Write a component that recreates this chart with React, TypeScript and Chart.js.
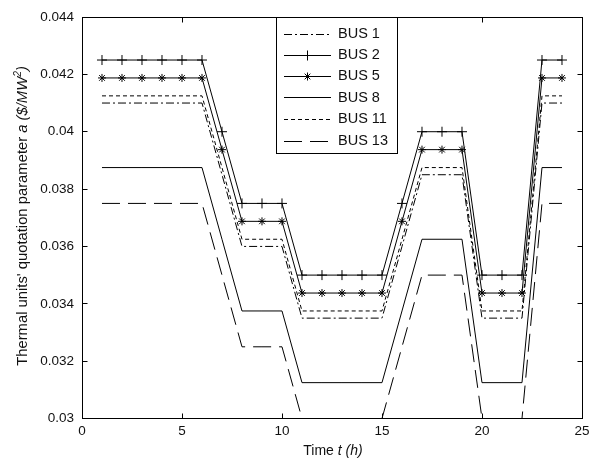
import React, { useEffect, useRef } from "react";
import { Chart, registerables } from "chart.js";

Chart.register(...registerables);

const hours = [1, 2, 3, 4, 5, 6, 7, 8, 9, 10, 11, 12, 13, 14, 15, 16, 17, 18, 19, 20, 21, 22, 23, 24];

const bus1 = [0.041, 0.041, 0.041, 0.041, 0.041, 0.041, 0.0385, 0.036, 0.036, 0.036, 0.0335, 0.0335, 0.0335, 0.0335, 0.0335, 0.036, 0.0385, 0.0385, 0.0385, 0.0335, 0.0335, 0.0335, 0.041, 0.041];
const bus2 = [0.0425, 0.0425, 0.0425, 0.0425, 0.0425, 0.0425, 0.04, 0.0375, 0.0375, 0.0375, 0.035, 0.035, 0.035, 0.035, 0.035, 0.0375, 0.04, 0.04, 0.04, 0.035, 0.035, 0.035, 0.0425, 0.0425];
const bus5 = [0.041875, 0.041875, 0.041875, 0.041875, 0.041875, 0.041875, 0.039375, 0.036875, 0.036875, 0.036875, 0.034375, 0.034375, 0.034375, 0.034375, 0.034375, 0.036875, 0.039375, 0.039375, 0.039375, 0.034375, 0.034375, 0.034375, 0.041875, 0.041875];
const bus8 = [0.03875, 0.03875, 0.03875, 0.03875, 0.03875, 0.03875, 0.03625, 0.03375, 0.03375, 0.03375, 0.03125, 0.03125, 0.03125, 0.03125, 0.03125, 0.03375, 0.03625, 0.03625, 0.03625, 0.03125, 0.03125, 0.03125, 0.03875, 0.03875];
const bus11 = [0.04125, 0.04125, 0.04125, 0.04125, 0.04125, 0.04125, 0.03875, 0.03625, 0.03625, 0.03625, 0.03375, 0.03375, 0.03375, 0.03375, 0.03375, 0.03625, 0.03875, 0.03875, 0.03875, 0.03375, 0.03375, 0.03375, 0.04125, 0.04125];
const bus13 = [0.0375, 0.0375, 0.0375, 0.0375, 0.0375, 0.0375, 0.035, 0.0325, 0.0325, 0.0325, 0.03, 0.03, 0.03, 0.03, 0.03, 0.0325, 0.035, 0.035, 0.035, 0.03, 0.03, 0.03, 0.0375, 0.0375];

const seriesNames = ["BUS 1", "BUS 2", "BUS 5", "BUS 8", "BUS 11", "BUS 13"];
const xTicks = [0, 5, 10, 15, 20, 25];
const yTicks = [0.03, 0.032, 0.034, 0.036, 0.038, 0.04, 0.042, 0.044];

const FONT = "'Liberation Sans', Arial, sans-serif";
const INK = "#111";

type Style = { dash: number[]; point: string | false; radius: number };
const styles: Style[] = [
  { dash: [8, 3, 2, 3], point: false, radius: 0 },
  { dash: [], point: "cross", radius: 5 },
  { dash: [], point: "star", radius: 4 },
  { dash: [], point: false, radius: 0 },
  { dash: [4, 3], point: false, radius: 0 },
  { dash: [18, 8], point: false, radius: 0 },
];

const seriesValues = [bus1, bus2, bus5, bus8, bus11, bus13];

const framePlugin = {
  id: "frame",
  afterDraw(chart: any) {
    const ctx: CanvasRenderingContext2D = chart.ctx;
    const { left, right, top, bottom } = chart.chartArea;
    const xs = chart.scales.x;
    const ys = chart.scales.y;
    ctx.save();
    ctx.strokeStyle = "#000";
    ctx.lineWidth = 1;
    ctx.setLineDash([]);
    const L = Math.round(left) + 0.5;
    const R = Math.round(right) + 0.5;
    const T = Math.round(top) + 0.5;
    const B = Math.floor(bottom) + 0.5;
    ctx.strokeRect(L, T, R - L, B - T);
    const tl = 5;
    ctx.beginPath();
    xTicks.forEach((v) => {
      const px = Math.round(xs.getPixelForValue(v)) + 0.5;
      ctx.moveTo(px, B);
      ctx.lineTo(px, B - tl);
      ctx.moveTo(px, T);
      ctx.lineTo(px, T + tl);
    });
    yTicks.forEach((v) => {
      const py = Math.floor(ys.getPixelForValue(v)) + 0.5;
      ctx.moveTo(L, py);
      ctx.lineTo(L + tl, py);
      ctx.moveTo(R, py);
      ctx.lineTo(R - tl, py);
    });
    ctx.stroke();

    // Legend
    const bx = 276.5, by = 17.5, bw = 121, bh = 136;
    ctx.fillStyle = "#fff";
    ctx.fillRect(bx, by, bw, bh);
    ctx.strokeRect(bx, by, bw, bh);
    const rowY = [33.5, 54.5, 75.5, 97, 118.5, 140.5];
    seriesNames.forEach((name, i) => {
      const st = styles[i];
      const y = Math.round(rowY[i]) + 0.5;
      ctx.beginPath();
      ctx.setLineDash(st.dash);
      ctx.moveTo(284, y);
      ctx.lineTo(331, y);
      ctx.stroke();
      ctx.setLineDash([]);
      const cx = 307.5;
      if (st.point === "cross") {
        ctx.beginPath();
        ctx.moveTo(cx, y - 5);
        ctx.lineTo(cx, y + 5);
        ctx.moveTo(cx - 5, y);
        ctx.lineTo(cx + 5, y);
        ctx.stroke();
      } else if (st.point === "star") {
        ctx.beginPath();
        const r = 4;
        ctx.moveTo(cx, y - r);
        ctx.lineTo(cx, y + r);
        ctx.moveTo(cx - r, y);
        ctx.lineTo(cx + r, y);
        const d = r * 0.7071;
        ctx.moveTo(cx - d, y - d);
        ctx.lineTo(cx + d, y + d);
        ctx.moveTo(cx - d, y + d);
        ctx.lineTo(cx + d, y - d);
        ctx.stroke();
      }
      ctx.fillStyle = INK;
      ctx.font = `14.5px ${FONT}`;
      ctx.textAlign = "left";
      ctx.textBaseline = "middle";
      ctx.fillText(name, 338, rowY[i] + 0.5);
    });

    const parts = (segs: [string, boolean, boolean?][], size: number) => {
      let w = 0;
      const m = segs.map(([t, it, sup]) => {
        const fs = sup ? size * 0.7 : size;
        ctx.font = `${it ? "italic " : ""}${fs}px ${FONT}`;
        const ww = ctx.measureText(t).width;
        w += ww;
        return { t, it, sup, fs, ww };
      });
      return { w, m };
    };
    const drawParts = (segs: [string, boolean, boolean?][], size: number, cx: number, baseline: number) => {
      const { w, m } = parts(segs, size);
      let x = cx - w / 2;
      ctx.textAlign = "left";
      ctx.textBaseline = "alphabetic";
      ctx.fillStyle = INK;
      m.forEach((p) => {
        ctx.font = `${p.it ? "italic " : ""}${p.fs}px ${FONT}`;
        ctx.fillText(p.t, x, p.sup ? baseline - size * 0.4 : baseline);
        x += p.ww;
      });
    };
    drawParts([["Time ", false], ["t (h)", true]], 14, 333, 455);

    ctx.save();
    ctx.translate(27, 216);
    ctx.rotate(-Math.PI / 2);
    drawParts(
      [
        ["Thermal units' quotation parameter ", false],
        ["a ($/MW", true],
        ["2", true, true],
        [")", true],
      ],
      14.8,
      0,
      0
    );
    ctx.restore();
    ctx.restore();
  },
};

export default function App() {
  const ref = useRef<HTMLCanvasElement | null>(null);
  useEffect(() => {
    if (!ref.current) return;
    const datasets = seriesNames.map((name, i) => {
      const st = styles[i];
      return {
        label: name,
        data: hours.map((h, k) => ({ x: h, y: seriesValues[i][k] })),
        borderColor: "#000",
        backgroundColor: "#000",
        borderWidth: 1,
        borderDash: st.dash,
        pointStyle: st.point || "circle",
        pointRadius: st.radius,
        pointBorderColor: "#000",
        pointBorderWidth: 1,
        pointHoverRadius: st.radius,
        fill: false,
        tension: 0,
      };
    });
    const chart = new Chart(ref.current, {
      type: "line",
      data: { datasets },
      options: {
        responsive: false,
        animation: false,
        events: [],
        layout: { padding: { left: 0, top: 17, right: 6, bottom: 0 } },
        plugins: { legend: { display: false }, tooltip: { enabled: false } },
        scales: {
          x: {
            type: "linear",
            min: 0,
            max: 25,
            afterFit: (s: any) => {
              s.height = 43.5;
            },
            afterBuildTicks: (s: any) => {
              s.ticks = xTicks.map((v) => ({ value: v }));
            },
            ticks: {
              font: { family: FONT, size: 13.5 },
              color: INK,
              padding: 4.5,
              maxRotation: 0,
              callback: (v: any) => String(v),
            },
            grid: { display: false, drawTicks: false },
            border: { display: false },
          },
          y: {
            type: "linear",
            min: 0.03,
            max: 0.044,
            afterFit: (s: any) => {
              s.width = 82;
            },
            afterBuildTicks: (s: any) => {
              s.ticks = yTicks.map((v) => ({ value: v }));
            },
            ticks: {
              font: { family: FONT, size: 13.5 },
              color: INK,
              padding: 8,
              callback: (v: any) => String(Number(Number(v).toFixed(3))),
            },
            grid: { display: false, drawTicks: false },
            border: { display: false },
          },
        },
      },
      plugins: [framePlugin],
    } as any);
    return () => chart.destroy();
  }, []);
  return (
    <canvas
      ref={ref}
      width={594}
      height={462}
      style={{ position: "absolute", left: 0, top: 0, width: 594, height: 462, display: "block", background: "#fff" }}
    />
  );
}
